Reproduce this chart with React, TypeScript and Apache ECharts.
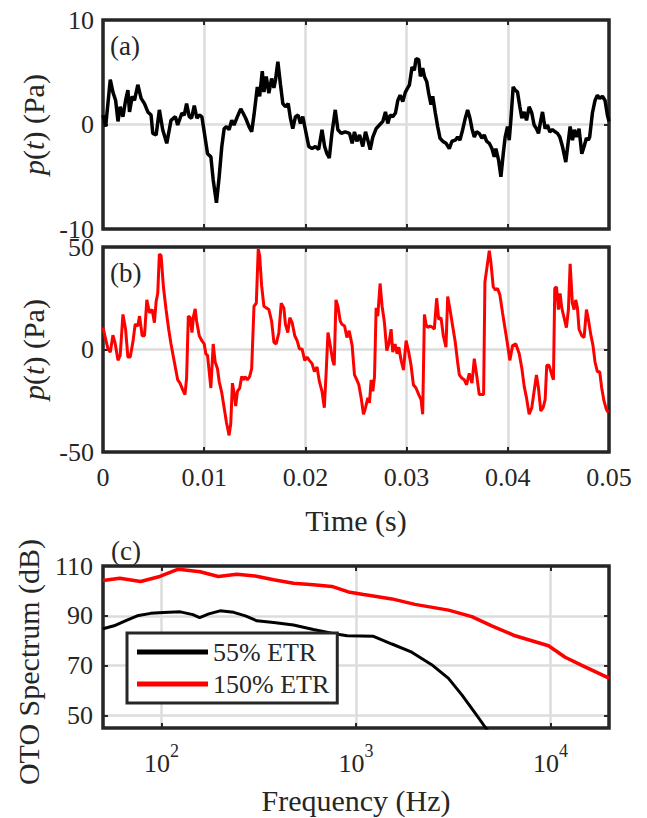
import React, { useEffect, useRef } from "react";
import * as echarts from "echarts";

const FONT = "'Liberation Serif', 'Times New Roman', serif";
const INK = "#262626";

// Panel (a): [time (ms), pressure (Pa)]
const panelA: [number, number][] = [
  [0, 0.9], [0.26, -0.2], [0.72, 4.3], [0.98, 3.1], [1.25, 2.3], [1.48, 0.3], [1.7, 1.7], [1.97, 0.75],
  [2.23, 2.3], [2.46, 3.3], [2.62, 1.2], [2.89, 2.7], [3.11, 2.3], [3.44, 3.8], [3.77, 2.5], [4.1, 2.0],
  [4.43, 1.2], [4.75, 0.9], [4.92, -0.85], [5.25, -1.0], [5.57, 1.4], [5.9, -0.5], [6.3, -1.8], [6.72, 0.4],
  [7.15, 0.75], [7.38, -0.05], [7.8, 1.1], [8.03, 0.9], [8.26, 2.0], [8.52, 0.75], [8.75, 0.6], [9.02, 1.8],
  [9.28, 0.6], [9.51, 0.9], [9.77, 0.75], [10.0, -0.7], [10.33, -2.8], [10.66, -3.1], [10.89, -5.3], [11.21, -7.5],
  [11.48, -5.0], [11.74, -2.1], [11.97, -0.4], [12.2, -0.2], [12.46, -0.5], [12.72, 0.4], [12.95, -0.05], [13.28, 0.75],
  [13.61, 1.5], [13.84, 1.1], [14.1, 0.6], [14.43, -0.2], [14.69, -0.7], [14.92, 0.9], [15.25, 3.6], [15.48, 2.7],
  [15.74, 5.1], [15.9, 3.1], [16.13, 4.6], [16.39, 3.0], [16.66, 4.4], [16.89, 3.5], [17.05, 4.3], [17.28, 6.0],
  [17.54, 3.8], [17.77, 2.0], [18.03, 1.7], [18.3, 2.0], [18.52, 0.6], [18.75, -0.4], [19.02, 0.75], [19.28, 0.9],
  [19.51, 0.1], [19.74, 0.75], [20.0, -0.5], [20.33, -2.1], [20.66, -2.3], [20.98, -2.1], [21.31, -2.4], [21.64, -0.5],
  [21.9, -2.1], [22.13, -2.8], [22.36, -3.2], [22.62, -0.85], [22.95, 1.4], [23.21, -0.5], [23.54, -0.85], [23.93, -0.7],
  [24.36, -0.85], [24.62, -1.8], [24.85, -0.7], [25.08, -1.6], [25.35, -1.0], [25.67, -2.1], [25.94, -0.7], [26.17, -1.5],
  [26.4, -2.4], [26.66, -1.2], [26.99, -0.4], [27.32, -0.05], [27.65, 0.3], [27.91, 1.2], [28.14, 0.1], [28.37, 0.9],
  [28.63, 0.75], [28.9, 1.1], [29.13, 2.3], [29.36, 2.8], [29.62, 2.2], [29.88, 3.1], [30.11, 3.5], [30.28, 3.8],
  [30.54, 5.5], [30.77, 5.2], [30.93, 6.3], [31.2, 6.2], [31.36, 4.6], [31.59, 5.4], [31.76, 4.6], [31.99, 4.1],
  [32.18, 3.0], [32.41, 1.9], [32.58, 2.7], [32.84, 1.1], [33.07, -0.2], [33.3, -1.3], [33.56, -1.6], [33.89, -1.8],
  [34.22, -2.3], [34.48, -1.6], [34.81, -1.5], [35.04, -1.2], [35.27, -1.5], [35.54, -0.5], [35.8, 0.6], [36.03, 1.4],
  [36.26, 0.6], [36.46, -0.4], [36.69, -1.2], [36.92, -0.7], [37.18, -0.85], [37.44, -1.3], [37.67, -1.0], [37.9, -1.6],
  [38.17, -1.8], [38.43, -2.3], [38.66, -3.1], [38.82, -2.3], [39.09, -3.4], [39.32, -5.0], [39.55, -2.8], [39.74, -1.2],
  [39.97, -0.2], [40.14, -1.5], [40.3, 0.4], [40.53, 3.6], [40.73, 3.3], [40.96, 3.1], [41.19, 1.7], [41.39, 0.6],
  [41.62, 1.2], [41.85, 0.4], [42.11, 1.7], [42.37, 1.1], [42.6, -0.05], [42.83, -0.4], [43.03, -0.85], [43.26, 0.4],
  [43.43, 1.2], [43.69, -0.4], [43.92, -0.05], [44.15, -0.7], [44.41, -0.5], [44.68, -0.7], [44.91, -0.85], [45.14, -1.2],
  [45.4, -2.1], [45.73, -3.6], [45.99, -1.5], [46.16, -0.2], [46.39, -1.5], [46.58, -0.5], [46.78, -1.2], [47.04, -0.4],
  [47.31, -2.8], [47.54, -2.1], [47.77, -1.3], [47.96, -1.5], [48.09, -1.2], [48.36, 1.1], [48.62, 2.3], [48.85, 2.8],
  [49.08, 2.5], [49.35, 2.7], [49.61, 2.3], [49.84, 0.9], [50.0, 0.3],
];

// Panel (b): [time (ms), pressure (Pa)]
const panelB: [number, number][] = [
  [0, 10.7], [0.26, 5.1], [0.49, 0.3], [0.72, -1.3], [0.98, 7.0], [1.21, 2.7], [1.48, -5.3], [1.7, -2.9],
  [1.97, 17.1], [2.23, 9.9], [2.46, -3.7], [2.69, -3.7], [2.95, 3.5], [3.18, 12.3], [3.44, 11.5], [3.61, 16.3],
  [3.87, 6.7], [4.1, 6.7], [4.33, 24.2], [4.59, 17.9], [4.85, 19.5], [5.08, 13.1], [5.25, 23.4], [5.41, 27.4],
  [5.57, 46.6], [5.74, 45.8], [5.97, 30.6], [6.23, 19.5], [6.49, 9.9], [6.72, 2.7], [7.05, -6.1], [7.38, -14.8],
  [7.61, -16.4], [7.87, -19.6], [8.1, -22.0], [8.26, -14.0], [8.43, 16.3], [8.62, 15.5], [8.79, 8.3], [8.95, 16.3],
  [9.11, 19.8], [9.25, 13.9], [9.51, 6.7], [9.77, 4.3], [10.0, 2.7], [10.16, -2.1], [10.33, -2.9], [10.66, -18.8],
  [10.89, 2.7], [11.08, -6.1], [11.31, -9.3], [11.48, -15.6], [11.74, -21.2], [11.97, -28.4], [12.2, -35.6], [12.46, -41.9],
  [12.62, -36.4], [12.79, -16.4], [12.95, -21.2], [13.11, -27.6], [13.28, -20.4], [13.51, -18.8], [13.7, -13.2], [13.87, -14.8],
  [14.03, -13.2], [14.26, -14.8], [14.49, -13.2], [14.69, -9.3], [14.92, 21.1], [15.15, 22.6], [15.34, 49.0], [15.48, 45.8],
  [15.67, 31.4], [15.9, 21.1], [16.13, 20.3], [16.39, 19.5], [16.66, 13.9], [16.89, 3.5], [17.11, 2.7], [17.38, 8.3],
  [17.61, 22.6], [17.87, 20.3], [18.03, 12.3], [18.26, 8.3], [18.46, 15.5], [18.69, 13.1], [18.95, 6.7], [19.18, 4.3],
  [19.41, 0.3], [19.67, 0.3], [19.93, -5.3], [20.16, -3.7], [20.39, -5.3], [20.66, -6.9], [20.89, -10.8], [21.15, -8.5],
  [21.38, -15.6], [21.64, -20.4], [21.87, -28.4], [22.07, -9.3], [22.23, 8.3], [22.46, 1.9], [22.69, -5.3], [22.85, -7.7],
  [23.02, 24.2], [23.21, 21.1], [23.44, 13.9], [23.61, 12.3], [23.87, 11.5], [24.1, 5.9], [24.33, 9.1], [24.62, 1.9],
  [24.85, -12.4], [25.08, -14.8], [25.28, -17.2], [25.51, -23.6], [25.74, -31.6], [25.94, -28.4], [26.17, -23.6], [26.33, -26.0],
  [26.5, -14.8], [26.66, -20.4], [26.83, -13.2], [26.99, 20.3], [27.15, 16.3], [27.38, 32.2], [27.58, 21.1], [27.81, 13.1],
  [28.04, -0.5], [28.24, 2.7], [28.47, 9.9], [28.63, -1.3], [28.86, 2.7], [29.06, -2.1], [29.23, 1.1], [29.46, -5.3],
  [29.69, -10.0], [29.95, 4.3], [30.21, -1.3], [30.44, -7.7], [30.67, -17.2], [30.93, -18.8], [31.2, -22.0], [31.43, -24.4],
  [31.59, -31.6], [31.76, 17.1], [31.92, 12.3], [32.09, 10.7], [32.32, 11.5], [32.58, 10.7], [32.74, 9.9], [32.97, 25.0],
  [33.17, 14.7], [33.4, 15.5], [33.63, 6.7], [33.89, 1.1], [34.06, 25.8], [34.29, 19.5], [34.55, 11.5], [34.81, 3.5],
  [35.04, -6.1], [35.21, -12.4], [35.47, -14.0], [35.7, -14.8], [35.93, -17.2], [36.19, -11.6], [36.46, -16.4], [36.69, -4.5],
  [36.92, -12.4], [37.18, -22.0], [37.44, -22.0], [37.61, -22.0], [37.74, 33.0], [37.9, 38.6], [38.17, 48.2], [38.33, 42.6],
  [38.56, 30.6], [38.76, 29.0], [38.99, 29.8], [39.22, 26.6], [39.48, 17.9], [39.71, 10.7], [39.97, 2.7], [40.2, -5.3],
  [40.47, 1.9], [40.8, 2.7], [41.13, -2.1], [41.39, -9.3], [41.62, -18.0], [41.85, -23.6], [42.11, -31.6], [42.37, -28.4],
  [42.6, -20.4], [42.83, -12.4], [43.03, -18.8], [43.26, -30.0], [43.49, -28.4], [43.69, -24.4], [43.85, -7.7], [44.08, -7.7],
  [44.35, -12.4], [44.51, -14.8], [44.64, 29.8], [44.81, 30.6], [45.0, 19.5], [45.17, 27.4], [45.33, 20.3], [45.56, 15.5],
  [45.79, 10.7], [45.99, 19.5], [46.16, 41.8], [46.38, 22.6], [46.55, 19.5], [46.71, 24.2], [46.88, 20.3], [47.04, 9.9],
  [47.31, 6.7], [47.54, 5.9], [47.77, 19.5], [47.96, 14.7], [48.19, 7.5], [48.42, 1.9], [48.62, -6.1], [48.85, -10.8],
  [49.08, -10.8], [49.28, -18.8], [49.51, -25.2], [49.74, -29.2], [49.94, -30.8],
];

// Panel (c): [frequency (Hz), OTO spectrum (dB)]
const spectrum55: [number, number][] = [
  [50, 84.8], [57, 86.0], [66, 88.2], [75, 90.0], [88, 91.0], [102, 91.3], [125, 91.6], [145, 90.5],
  [157, 89.3], [175, 90.8], [200, 92.0], [235, 91.4], [270, 90.0], [309, 88.0], [377, 87.3], [477, 86.3],
  [604, 84.5], [750, 83.0], [900, 82.0], [1230, 81.8], [1530, 78.7], [1935, 75.4], [2450, 70.4], [2990, 64.9],
  [3510, 58.2], [4100, 51.0], [4600, 45.5], [4800, 43.5],
];
const spectrum150: [number, number][] = [
  [50, 104.2], [61, 105.1], [78, 103.8], [98, 105.8], [122, 108.7], [158, 107.7], [196, 105.8], [244, 106.7],
  [303, 106.0], [377, 104.5], [477, 103.1], [604, 102.5], [751, 101.8], [914, 99.6], [1094, 98.6], [1160, 98.3],
  [1530, 96.8], [2010, 94.6], [2990, 92.3], [3940, 89.7], [4990, 86.0], [6580, 82.0], [9770, 78.0], [11900, 73.4],
  [14500, 70.1], [20000, 65.0],
];

const timeTicks = { min: 0, max: 0.05, interval: 0.01 };
const pressureA = { min: -10, max: 10, interval: 10 };
const pressureB = { min: -50, max: 50, interval: 50 };
const dbTicks = [50, 70, 90, 110];
const freqRange = { min: 50, max: 20000 };
const seriesNames = ["55% ETR", "150% ETR"];

const toSeconds = (d: [number, number][]) => d.map(([t, v]) => [t / 1000, v]);

const tickIn = { show: true, inside: true, length: 5, lineStyle: { color: INK, width: 2 } };
const gridLine = { show: true, lineStyle: { color: "#dcdcdc", width: 2.5 } };
const noLine = { show: false, onZero: false };
const labelStyle = { fontFamily: FONT, fontSize: 26, color: INK };
const nameStyle = {
  fontFamily: FONT,
  fontSize: 30,
  color: INK,
  rich: { i: { fontFamily: FONT, fontSize: 30, color: INK, fontStyle: "italic" } },
};

function gridBox(top: number, height: number) {
  return {
    left: 103, top, width: 506, height,
    show: true, borderColor: INK, borderWidth: 3.5, backgroundColor: "transparent", z: 3,
  };
}

function mirrorAxis(gridIndex: number, position: string, extra: any) {
  return {
    gridIndex, position, ...extra,
    axisLine: noLine, axisLabel: { show: false }, splitLine: { show: false },
    axisTick: extra.axisTick || tickIn,
  };
}

export default function App() {
  const ref = useRef<HTMLDivElement>(null);
  useEffect(() => {
    if (!ref.current) return;
    const chart = echarts.init(ref.current, undefined, { renderer: "svg" });
    const option: any = {
      animation: false,
      backgroundColor: "#fff",
      grid: [gridBox(20, 209), gridBox(247, 205), gridBox(566, 162)],
      xAxis: [
        { gridIndex: 0, type: "value", ...timeTicks, axisLine: noLine, axisLabel: { show: false }, axisTick: tickIn, splitLine: gridLine },
        mirrorAxis(0, "top", { type: "value", ...timeTicks }),
        {
          gridIndex: 1, type: "value", ...timeTicks, axisLine: noLine,
          axisLabel: { ...labelStyle, margin: 12 }, axisTick: tickIn, splitLine: gridLine,
          name: "Time (s)", nameLocation: "middle", nameGap: 53, nameTextStyle: nameStyle,
        },
        mirrorAxis(1, "top", { type: "value", ...timeTicks }),
        {
          gridIndex: 2, type: "log", logBase: 10, ...freqRange, axisLine: noLine,
          axisLabel: {
            ...labelStyle, margin: 14, showMinLabel: false, showMaxLabel: false,
            formatter: (v: number) => `{b|10}{s|${Math.round(Math.log10(v))}}`,
            rich: {
              b: { fontFamily: FONT, fontSize: 26, color: INK, lineHeight: 34, verticalAlign: "bottom" },
              s: { fontFamily: FONT, fontSize: 18, color: INK, lineHeight: 18, verticalAlign: "top" },
            },
          },
          axisTick: tickIn, splitLine: gridLine, minorTick: { show: false },
          name: "Frequency (Hz)", nameLocation: "middle", nameGap: 57, nameTextStyle: nameStyle,
        },
        mirrorAxis(2, "top", { type: "log", logBase: 10, ...freqRange }),
      ],
      yAxis: [
        {
          gridIndex: 0, type: "value", ...pressureA, axisLine: noLine,
          axisLabel: { ...labelStyle, margin: 9 }, axisTick: tickIn, splitLine: gridLine,
          name: "{i|p}({i|t}) (Pa)", nameLocation: "middle", nameGap: 53, nameRotate: 90, nameTextStyle: nameStyle,
        },
        mirrorAxis(0, "right", { type: "value", ...pressureA }),
        {
          gridIndex: 1, type: "value", ...pressureB, axisLine: noLine,
          axisLabel: { ...labelStyle, margin: 9 }, axisTick: tickIn, splitLine: gridLine,
          name: "{i|p}({i|t}) (Pa)", nameLocation: "middle", nameGap: 53, nameRotate: 90, nameTextStyle: nameStyle,
        },
        mirrorAxis(1, "right", { type: "value", ...pressureB }),
        {
          gridIndex: 2, type: "value", min: 45, max: 110, axisLine: noLine,
          axisLabel: { ...labelStyle, margin: 10, customValues: dbTicks },
          axisTick: { ...tickIn, customValues: dbTicks }, splitLine: gridLine,
          name: "OTO Spectrum (dB)", nameLocation: "middle", nameGap: 60, nameRotate: 90,
          nameTextStyle: { ...nameStyle, padding: [0, 30, 0, 0] },
        },
        mirrorAxis(2, "right", {
          type: "value", min: 45, max: 110,
          axisTick: { ...tickIn, customValues: dbTicks },
        }),
      ],
      legend: {
        data: seriesNames,
        orient: "vertical", left: 127, top: 633,
        icon: "rect", itemWidth: 71, itemHeight: 5, itemGap: 6,
        backgroundColor: "#fff", borderColor: INK, borderWidth: 3, borderRadius: 0,
        padding: [6, 8, 6, 10],
        textStyle: { fontFamily: FONT, fontSize: 26, color: INK },
        selectedMode: false, z: 6,
      },
      series: [
        {
          type: "line", name: "panel-a", xAxisIndex: 0, yAxisIndex: 0, data: toSeconds(panelA),
          showSymbol: false, symbol: "none", color: "#000", lineStyle: { color: "#000", width: 3.5 },
        },
        {
          type: "line", name: "panel-b", xAxisIndex: 2, yAxisIndex: 2, data: toSeconds(panelB),
          showSymbol: false, symbol: "none", color: "#ff0000", lineStyle: { color: "#ff0000", width: 3 },
        },
        {
          type: "line", name: seriesNames[0], xAxisIndex: 4, yAxisIndex: 4, data: spectrum55,
          showSymbol: false, symbol: "none", color: "#000", itemStyle: { color: "#000" },
          lineStyle: { color: "#000", width: 3 },
        },
        {
          type: "line", name: seriesNames[1], xAxisIndex: 4, yAxisIndex: 4, data: spectrum150,
          showSymbol: false, symbol: "none", color: "#ff0000", itemStyle: { color: "#ff0000" },
          lineStyle: { color: "#ff0000", width: 3.5 },
        },
      ],
      graphic: [
        { type: "text", x: 110, y: 32, style: { text: "(a)", fontFamily: FONT, fontSize: 27, fill: INK, verticalAlign: "top" } },
        { type: "text", x: 110, y: 259, style: { text: "(b)", fontFamily: FONT, fontSize: 27, fill: INK, verticalAlign: "top" } },
        { type: "text", x: 111, y: 537, style: { text: "(c)", fontFamily: FONT, fontSize: 27, fill: INK, verticalAlign: "top" } },
      ],
    };
    chart.setOption(option);
    return () => chart.dispose();
  }, []);
  return (
    <div
      ref={ref}
      style={{ position: "fixed", left: 0, top: 0, width: 647, height: 818, background: "#fff" }}
    />
  );
}
